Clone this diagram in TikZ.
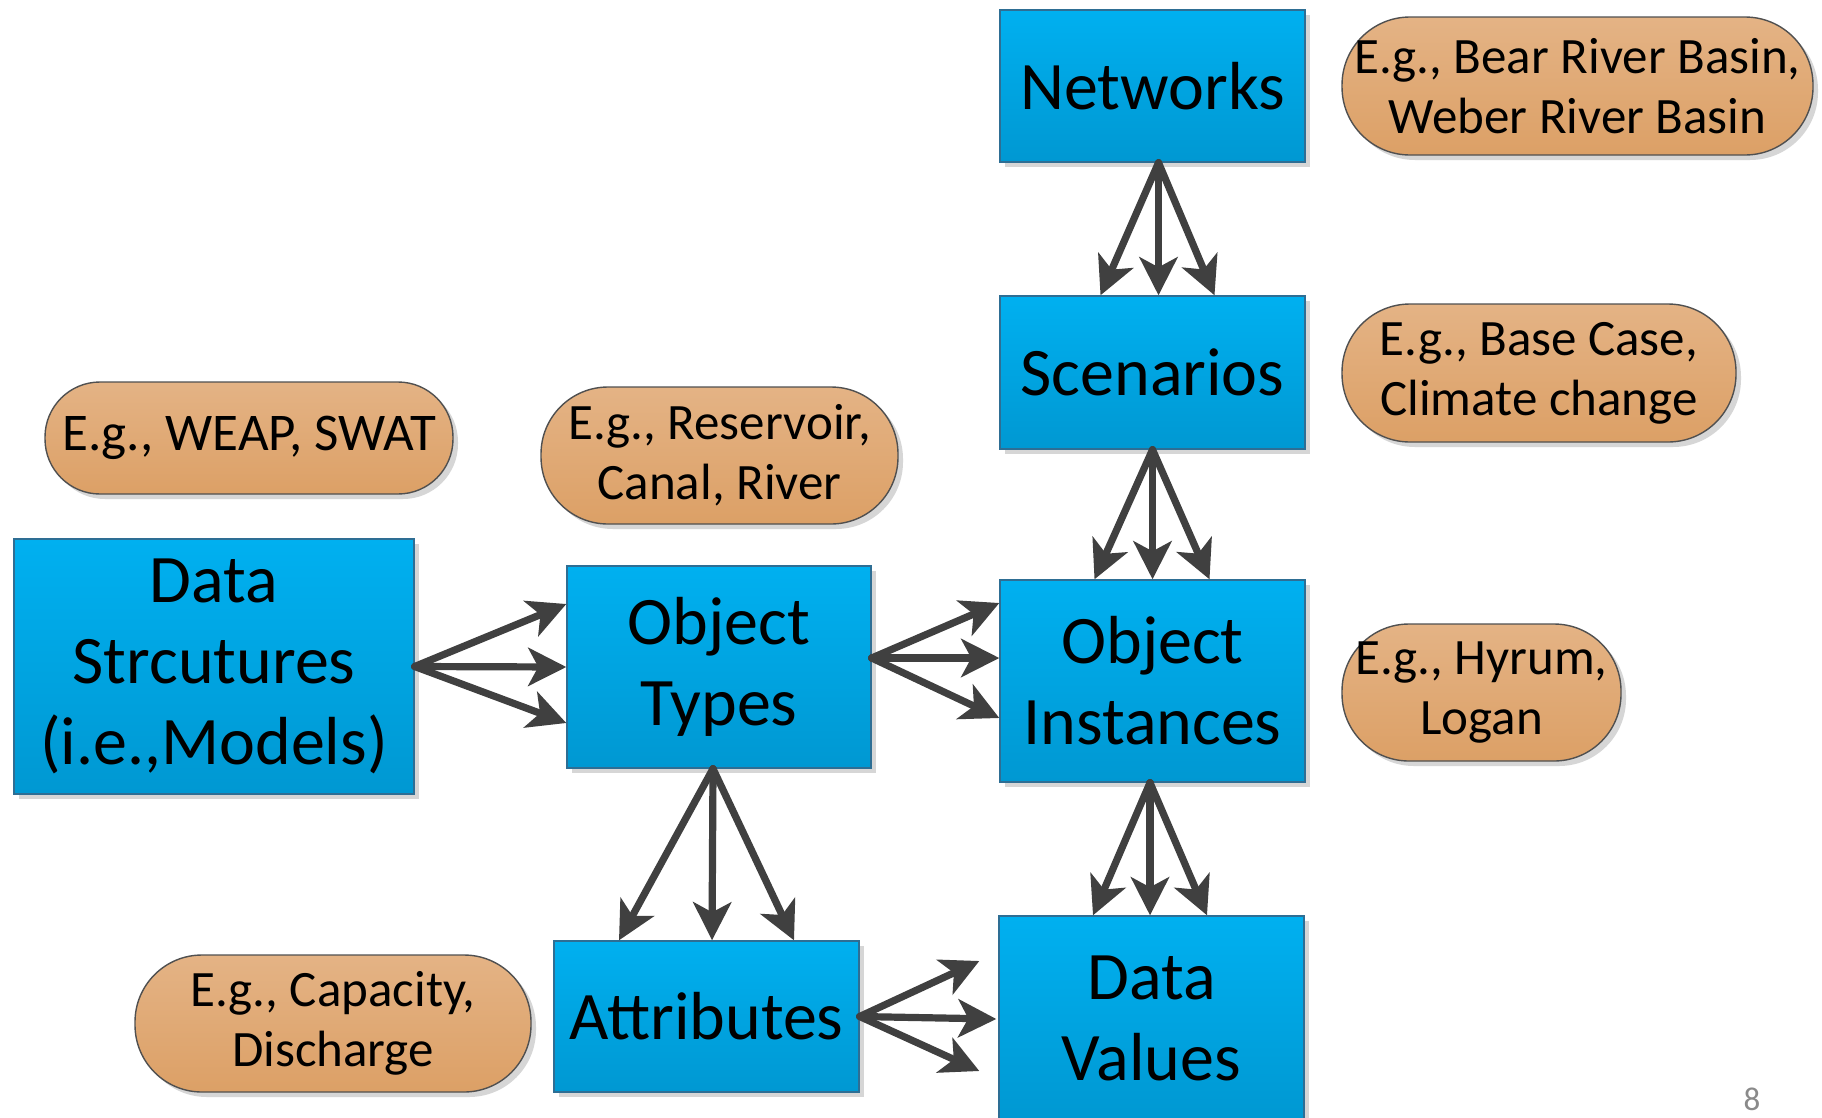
\documentclass[tikz,border=0pt]{standalone}
\usepackage{fontspec}
\setmainfont{Carlito}
\usetikzlibrary{arrows.meta,shadows}
\definecolor{boxtop}{HTML}{00B0F0}
\definecolor{boxbot}{HTML}{0098D2}
\definecolor{boxline}{HTML}{2E6E94}
\definecolor{pilltop}{HTML}{E4B385}
\definecolor{pillbot}{HTML}{DCA066}
\definecolor{pillline}{HTML}{505050}
\definecolor{arrowgray}{HTML}{404040}
\definecolor{shadowgray}{HTML}{D6D6D6}
\definecolor{pagegray}{HTML}{8A8A8A}
\begin{document}
\begin{tikzpicture}[x=1pt,y=-1pt,
  bluebox/.style={draw=boxline, line width=1.4pt, top color=boxtop, bottom color=boxbot,
    align=center, inner sep=0pt, font=\fontsize{68}{81}\selectfont,
    drop shadow={shadow xshift=5pt, shadow yshift=-5pt, fill=shadowgray, opacity=1}},
  pill/.style={draw=pillline, line width=1.4pt, top color=pilltop, bottom color=pillbot,
    align=center, inner sep=0pt, font=\fontsize{51}{60}\selectfont,
    drop shadow={shadow xshift=5pt, shadow yshift=-5pt, fill=shadowgray, opacity=1}},
  conn/.style={draw=arrowgray, line width=7.2pt, line cap=round,
    -{Stealth[length=38pt,width=38pt,inset=10pt]}}
]
\useasboundingbox[fill=white] (0,0) rectangle (1822,1117);

% blue boxes
\node[bluebox, minimum width=305pt, minimum height=152pt] (net)  at (1152.5,86) {Networks};
\node[bluebox, minimum width=305pt, minimum height=153pt] (scen) at (1152.5,372.5) {Scenarios};
\node[bluebox, minimum width=305pt, minimum height=202pt] (inst) at (1152.5,681) {Object\\Instances};
\node[bluebox, minimum width=305pt, minimum height=204pt] (dv)   at (1151.5,1018) {Data\\Values};
\node[bluebox, minimum width=304pt, minimum height=202pt] (otyp) at (719,667) {Object\\Types};
\node[bluebox, minimum width=305pt, minimum height=151pt] (attr) at (706.5,1016.5) {Attributes};
\node[bluebox, minimum width=400pt, minimum height=255pt] (ds)   at (214,666.5) {Data\\Strcutures\\(i.e.,Models)};

% example pills
\node[pill, minimum width=471pt, minimum height=138pt, rounded corners=68pt] (pnet) at (1577.5,86) {E.g., Bear River Basin,\\Weber River Basin};
\node[pill, minimum width=394pt, minimum height=138pt, rounded corners=68pt] (pscen) at (1539,373) {E.g., Base Case,\\Climate change};
\node[pill, minimum width=279pt, minimum height=137pt, rounded corners=67pt] (pinst) at (1481.5,692.5) {E.g., Hyrum,\\Logan};
\node[pill, minimum width=408pt, minimum height=112pt, rounded corners=55pt, font=\fontsize{53}{60}\selectfont] (pds) at (249,438) {E.g., WEAP, SWAT};
\node[pill, minimum width=357pt, minimum height=137pt, rounded corners=67pt] (potyp) at (719.5,455.5) {E.g., Reservoir,\\Canal, River};
\node[pill, minimum width=396pt, minimum height=137pt, rounded corners=67pt] (pattr) at (333,1023.5) {E.g., Capacity,\\Discharge};

% page number
\node[text=pagegray, inner sep=0pt, font=\fontsize{33}{36}\selectfont] (pg) at (1752,1099) {8};

% connectors
\foreach \dx in {-52,6,62}
  \draw[conn] ([xshift=6pt]net.south) -- ([xshift=\dx pt]scen.north);
\foreach \dx in {-58,0,57}
  \draw[conn] (scen.south) -- ([xshift=\dx pt]inst.north);
\foreach \dx in {-58.5,-1.5,55.5}
  \draw[conn] ([xshift=-2.5pt]inst.south) -- ([xshift=\dx pt]dv.north);
\foreach \dx in {-87.5,5.5,87.5}
  \draw[conn] ([xshift=-6pt]otyp.south) -- ([xshift=\dx pt]attr.north);
\foreach \dy in {63,0,-56}
  \draw[conn] (ds.east) -- ([yshift=\dy pt]otyp.west);
\foreach \dy in {78,23,-37}
  \draw[conn] ([yshift=9pt]otyp.east) -- ([yshift=\dy pt]inst.west);
\foreach \dx/\dy in {-19/57,-2/-1,-19/-53}
  \draw[conn] (attr.east) -- ([xshift=\dx pt,yshift=\dy pt]dv.west);
\end{tikzpicture}
\end{document}
